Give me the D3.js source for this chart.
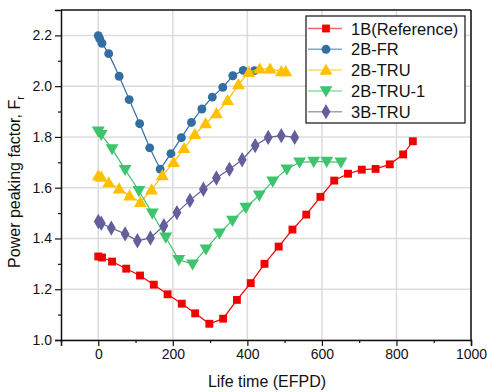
<!DOCTYPE html>
<html>
<head>
<meta charset="utf-8">
<script src="https://cdn.jsdelivr.net/npm/d3@7"></script>
<style>
body { margin: 0; background: #fff; }
svg { font-family: Arial, "Liberation Sans", sans-serif; }
</style>
</head>
<body>
<svg width="487" height="392"></svg>
<script>
// series data
var names = ["1B(Reference)", "2B-FR", "2B-TRU", "2B-TRU-1", "3B-TRU"];

var x1B = [0, 10, 37, 75, 112, 149, 186, 224, 260, 298, 335, 372, 409, 446, 484, 521, 558, 596, 633, 670, 707, 744, 782, 818, 844];
var y1B = [1.329, 1.325, 1.309, 1.281, 1.254, 1.218, 1.180, 1.143, 1.105, 1.064, 1.084, 1.158, 1.224, 1.300, 1.368, 1.435, 1.494, 1.564, 1.628, 1.655, 1.671, 1.674, 1.692, 1.731, 1.783];

var x2BFR = [0, 4, 10, 28, 56, 83, 111, 138, 166, 195, 223, 250, 278, 306, 334, 361, 389, 419];
var y2BFR = [2.199, 2.186, 2.169, 2.128, 2.039, 1.947, 1.852, 1.757, 1.673, 1.734, 1.797, 1.857, 1.910, 1.957, 1.995, 2.041, 2.062, 2.061];

var x2BTRU = [0, 8, 28, 56, 84, 113, 143, 172, 202, 230, 259, 288, 317, 347, 376, 404, 433, 461, 491, 503];
var y2BTRU = [1.647, 1.642, 1.620, 1.596, 1.568, 1.543, 1.592, 1.648, 1.700, 1.755, 1.810, 1.853, 1.892, 1.944, 2.006, 2.055, 2.068, 2.068, 2.058, 2.058];

var x2BTRU1 = [0, 8, 37, 72, 109, 145, 181, 216, 253, 289, 325, 360, 396, 432, 468, 506, 540, 578, 613, 651];
var y2BTRU1 = [1.822, 1.809, 1.753, 1.671, 1.588, 1.499, 1.405, 1.316, 1.299, 1.358, 1.421, 1.471, 1.522, 1.570, 1.625, 1.673, 1.700, 1.703, 1.703, 1.700];

var x3BTRU = [0, 8, 35, 72, 105, 140, 176, 211, 246, 282, 317, 352, 386, 421, 456, 491, 527];
var y3BTRU = [1.467, 1.460, 1.441, 1.418, 1.391, 1.402, 1.450, 1.502, 1.550, 1.594, 1.638, 1.673, 1.710, 1.766, 1.798, 1.805, 1.798];

var xTicks = [0, 200, 400, 600, 800, 1000];
var yTicks = [1.0, 1.2, 1.4, 1.6, 1.8, 2.0, 2.2];

var colors = ["#f20000", "#336ea3", "#ffc000", "#3ec46d", "#625f9b"];
var symbols = [d3.symbolSquare, d3.symbolCircle, d3.symbolTriangle, d3.symbolTriangle, d3.symbolDiamond];
var sizes = [62, 62, 72, 72, 68];
var rotations = [0, 0, 0, 180, 0];

var series = [
  {xs: x1B, ys: y1B},
  {xs: x2BFR, ys: y2BFR},
  {xs: x2BTRU, ys: y2BTRU},
  {xs: x2BTRU1, ys: y2BTRU1},
  {xs: x3BTRU, ys: y3BTRU}
];

var margin = {left: 61, top: 10, right: 16, bottom: 52};
var width = 487 - margin.left - margin.right;
var height = 392 - margin.top - margin.bottom;

var svg = d3.select("svg");
var g = svg.append("g").attr("transform", "translate(" + margin.left + "," + margin.top + ")");

var x = d3.scaleLinear().domain([-100, 1000]).range([0, width]);
var y = d3.scaleLinear().domain([1.0, 2.3]).range([height, 0]);

// grid
g.selectAll(".gx")
  .data(xTicks)
  .enter()
  .append("line")
  .attr("x1", function(d){return x(d);})
  .attr("x2", function(d){return x(d);})
  .attr("y1", 0)
  .attr("y2", height)
  .attr("stroke", "#dcdcdc")
  .attr("stroke-width", 1.5);

g.selectAll(".gy")
  .data(yTicks)
  .enter()
  .append("line")
  .attr("x1", 0)
  .attr("x2", width)
  .attr("y1", function(d){return y(d);})
  .attr("y2", function(d){return y(d);})
  .attr("stroke", "#dcdcdc")
  .attr("stroke-width", 1.5);

// minor ticks
var xMinor = d3.range(-100, 1001, 100).filter(function(d){return d % 200 != 0;});
var yMinor = d3.range(1.1, 2.3, 0.2);

g.append("g")
  .attr("transform", "translate(0," + height + ")")
  .call(d3.axisBottom(x).tickValues(xTicks).tickSize(6).tickPadding(3).tickFormat(d3.format("d")));
g.append("g")
  .attr("transform", "translate(0," + height + ")")
  .call(d3.axisBottom(x).tickValues(xMinor).tickSize(3).tickFormat(""))
  .select(".domain").remove();

g.append("g")
  .call(d3.axisLeft(y).tickValues(yTicks).tickSize(6).tickPadding(3).tickFormat(d3.format(".1f")));
g.append("g")
  .call(d3.axisLeft(y).tickValues(yMinor).tickSize(3).tickFormat(""))
  .select(".domain").remove();

svg.selectAll(".tick text")
  .attr("font-size", "14px")
  .attr("font-family", "Arial, 'Liberation Sans', sans-serif")
  .attr("fill", "#111");
svg.selectAll(".tick line").attr("stroke", "#111").attr("stroke-width", 1.2);
svg.selectAll(".domain").attr("stroke", "#111").attr("stroke-width", 1.5);

// frame top and right
g.append("line").attr("x1", 0).attr("x2", width).attr("y1", 0).attr("y2", 0)
  .attr("stroke", "#111").attr("stroke-width", 1.5);
g.append("line").attr("x1", width).attr("x2", width).attr("y1", 0).attr("y2", height)
  .attr("stroke", "#111").attr("stroke-width", 1.5);

// lines and markers
var line = d3.line()
  .x(function(d){return x(d[0]);})
  .y(function(d){return y(d[1]);});

series.forEach(function(s, i)
{
  var pts = s.xs.map(function(v, j){return [v, s.ys[j]];});
  g.append("path")
    .datum(pts)
    .attr("d", line)
    .attr("fill", "none")
    .attr("stroke", colors[i])
    .attr("stroke-width", 1.2);

  g.selectAll(".m" + i)
    .data(pts)
    .enter()
    .append("path")
    .attr("d", d3.symbol().type(symbols[i]).size(sizes[i]))
    .attr("transform", function(d)
    {
      var yy = y(d[1]);
      if (symbols[i] == d3.symbolTriangle) yy = yy + (rotations[i] ? -1 : 1);
      return "translate(" + x(d[0]) + "," + yy + ") rotate(" + rotations[i] + ")";
    })
    .attr("fill", colors[i]);
});

// legend
var legend = svg.append("g").attr("transform", "translate(306,16)");
legend.append("rect")
  .attr("x", 0)
  .attr("y", 0)
  .attr("width", 159)
  .attr("height", 107)
  .attr("fill", "#fff")
  .attr("stroke", "#111")
  .attr("stroke-width", 1.2);

names.forEach(function(n, i)
{
  var ly = 12.5 + i * 20.8;
  legend.append("line")
    .attr("x1", 2).attr("x2", 36)
    .attr("y1", ly).attr("y2", ly)
    .attr("stroke", colors[i])
    .attr("stroke-opacity", 0.6)
    .attr("stroke-width", 1.5);
  legend.append("path")
    .attr("d", d3.symbol().type(symbols[i]).size(sizes[i]))
    .attr("transform", "translate(20," + (ly + (symbols[i] == d3.symbolTriangle ? (rotations[i] ? -1 : 1) : 0)) + ") rotate(" + rotations[i] + ")")
    .attr("fill", colors[i]);
  legend.append("text")
    .text(n)
    .attr("x", 45)
    .attr("y", ly + 6)
    .attr("font-size", "16.5px")
    .attr("fill", "#111");
});

// axis titles
svg.append("text")
  .text("Life time (EFPD)")
  .attr("x", 267)
  .attr("y", 387)
  .attr("text-anchor", "middle")
  .attr("font-size", "16px")
  .attr("fill", "#111");

var yt = svg.append("text")
  .attr("transform", "translate(20,182) rotate(-90)")
  .attr("text-anchor", "middle")
  .attr("font-size", "16px")
  .attr("fill", "#111");
yt.append("tspan").text("Power peaking factor, F");
yt.append("tspan").text("r").attr("font-size", "11px").attr("dy", 4);
</script>
</body>
</html>
